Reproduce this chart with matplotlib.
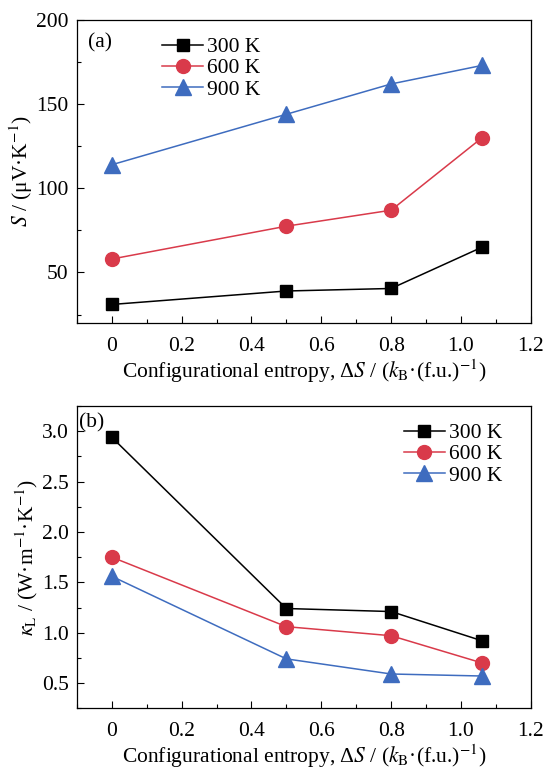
import matplotlib
matplotlib.use('Agg')
import matplotlib.pyplot as plt
from matplotlib.ticker import MultipleLocator, FuncFormatter

plt.rcParams['font.family'] = ['Liberation Serif', 'DejaVu Serif']
plt.rcParams['mathtext.fontset'] = 'stix'
plt.rcParams['font.size'] = 15.5

entropy = [0, 0.5, 0.8, 1.06]
temps = ['300 K', '600 K', '900 K']

seebeck_300 = [31, 39, 40.5, 65]
seebeck_600 = [58, 77.5, 87, 130]
seebeck_900 = [114, 144, 162, 173]

kappa_300 = [2.94, 1.24, 1.21, 0.92]
kappa_600 = [1.75, 1.06, 0.97, 0.70]
kappa_900 = [1.56, 0.74, 0.59, 0.57]

colors = ['black', '#d93a4a', '#3e6cbf']
markers = ['s', 'o', '^']
sizes = [9, 10, 11]


def style_axis(ax):
    ax.set_xlim(-0.1, 1.2)
    ax.xaxis.set_major_locator(MultipleLocator(0.2))
    ax.xaxis.set_minor_locator(MultipleLocator(0.1))
    ax.xaxis.set_major_formatter(FuncFormatter(lambda v, p: '0' if abs(v) < 1e-9 else '%.1f' % v))
    ax.tick_params(which='both', direction='in', top=False, right=False)
    ax.tick_params(which='major', length=5, width=0.8, pad=6)
    ax.tick_params(axis='x', which='major', pad=10)
    ax.tick_params(which='minor', length=3, width=0.8)
    for sp in ax.spines.values():
        sp.set_linewidth(0.9)
    ax.set_xlabel(r'Configurational entropy, Δ$S$ / ($k_{\mathrm{B}}$·(f.u.)$^{-1}$)', labelpad=1)


fig = plt.figure(figsize=(5.45, 7.69), dpi=100)
ax1 = fig.add_axes([0.141, 0.58, 0.833, 0.394])
ax2 = fig.add_axes([0.141, 0.079, 0.833, 0.393])

for vals, lab, c, m, s in zip([seebeck_300, seebeck_600, seebeck_900], temps, colors, markers, sizes):
    ax1.plot(entropy, vals, color=c, marker=m, markersize=s, linewidth=1.1, label=lab)
style_axis(ax1)
ax1.set_ylim(20, 200)
ax1.yaxis.set_major_locator(MultipleLocator(50))
ax1.yaxis.set_minor_locator(MultipleLocator(25))
ax1.set_ylabel(r'$S$ / (μV·K$^{-1}$)', labelpad=1)
ax1.text(0.025, 0.955, '(a)', transform=ax1.transAxes, ha='left', va='top')
ax1.legend(loc='upper left', bbox_to_anchor=(0.15, 1.0), frameon=False,
           handlelength=1.9, handletextpad=0.2, labelspacing=0.05, borderpad=0.3)

for vals, lab, c, m, s in zip([kappa_300, kappa_600, kappa_900], temps, colors, markers, sizes):
    ax2.plot(entropy, vals, color=c, marker=m, markersize=s, linewidth=1.1, label=lab)
style_axis(ax2)
ax2.set_ylim(0.25, 3.25)
ax2.yaxis.set_major_locator(MultipleLocator(0.5))
ax2.yaxis.set_minor_locator(MultipleLocator(0.25))
ax2.yaxis.set_major_formatter(FuncFormatter(lambda v, p: '%.1f' % v))
ax2.set_ylabel(r'$\kappa_{\mathrm{L}}$ / (W·m$^{-1}$·K$^{-1}$)', labelpad=1)
ax2.text(0.005, 0.975, '(b)', transform=ax2.transAxes, ha='left', va='top')
ax2.legend(loc='upper right', bbox_to_anchor=(0.975, 1.0), frameon=False,
           handlelength=1.9, handletextpad=0.2, labelspacing=0.05, borderpad=0.3)

fig.savefig('out.png', dpi=100)
